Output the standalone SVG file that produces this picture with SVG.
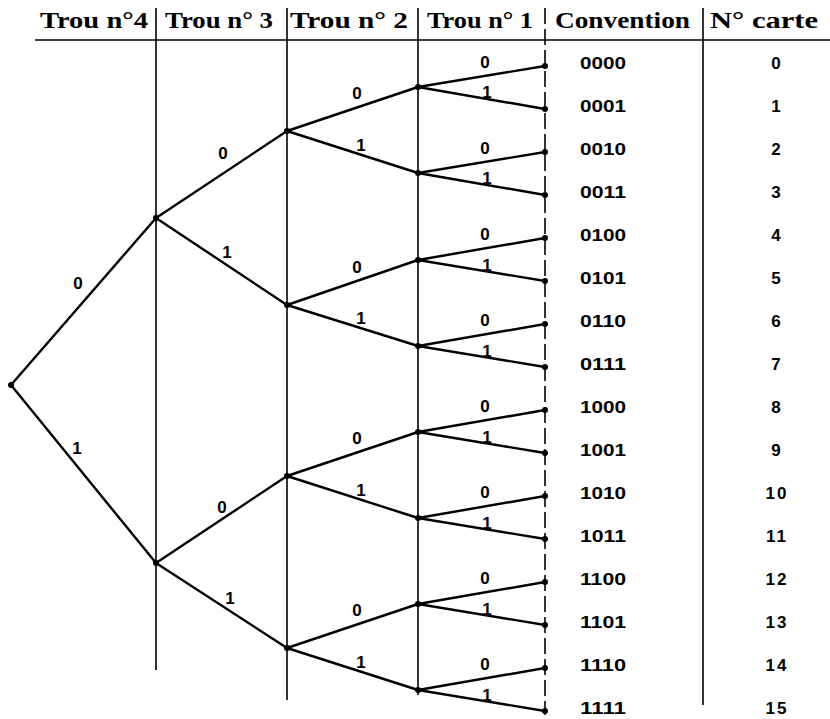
<svg xmlns="http://www.w3.org/2000/svg" width="830" height="719" viewBox="0 0 830 719">
<style>
.hdr{font-family:"Liberation Serif","DejaVu Serif",serif;font-weight:bold;font-size:23px;fill:#000}
.grid{stroke:#000;stroke-width:1.6;fill:none}
.edge{stroke:#000;stroke-width:2.4;fill:none;stroke-linejoin:round}
.dot{fill:#000}
.el{font-family:"Liberation Sans","DejaVu Sans",sans-serif;font-weight:bold;font-size:17px;fill:#000;text-anchor:middle}
.code{font-family:"Liberation Sans","DejaVu Sans",sans-serif;font-weight:bold;font-size:16px;fill:#000}
.num{font-family:"Liberation Sans","DejaVu Sans",sans-serif;font-weight:bold;font-size:17px;fill:#000;text-anchor:middle;letter-spacing:2px}
</style>
<rect width="830" height="719" fill="#fff"/>
<g id="table">
<line class="grid" x1="35" y1="40" x2="830" y2="40" stroke-width="2"/>
<line class="grid" x1="156" y1="8" x2="156" y2="670"/>
<line class="grid" x1="287" y1="8" x2="287" y2="700"/>
<line class="grid" x1="418" y1="8" x2="418" y2="695"/>
<line class="grid" x1="545" y1="8" x2="545" y2="715" stroke-dasharray="16 5"/>
<line class="grid" x1="703" y1="8" x2="703" y2="705"/>
<text class="hdr" x="40" y="28" textLength="108" lengthAdjust="spacingAndGlyphs">Trou n°4</text>
<text class="hdr" x="165" y="28" textLength="108" lengthAdjust="spacingAndGlyphs">Trou n° 3</text>
<text class="hdr" x="290" y="28" textLength="118" lengthAdjust="spacingAndGlyphs">Trou n° 2</text>
<text class="hdr" x="427" y="28" textLength="106" lengthAdjust="spacingAndGlyphs">Trou n° 1</text>
<text class="hdr" x="555" y="28" textLength="135" lengthAdjust="spacingAndGlyphs">Convention</text>
<text class="hdr" x="710" y="28" textLength="108" lengthAdjust="spacingAndGlyphs">N° carte</text>
</g>
<g id="connectors">
<polyline class="edge" points="156,218 11,385 156,563"/>
<polyline class="edge" points="287,131 156,218 287,305"/>
<polyline class="edge" points="287,476 156,563 287,648"/>
<polyline class="edge" points="418,87 287,131 418,173"/>
<polyline class="edge" points="418,260 287,305 418,346"/>
<polyline class="edge" points="418,432 287,476 418,518"/>
<polyline class="edge" points="418,604 287,648 418,690"/>
<polyline class="edge" points="545,66 418,87 545,109"/>
<polyline class="edge" points="545,152 418,173 545,195"/>
<polyline class="edge" points="545,238 418,260 545,281"/>
<polyline class="edge" points="545,324 418,346 545,367"/>
<polyline class="edge" points="545,410 418,432 545,453"/>
<polyline class="edge" points="545,496 418,518 545,539"/>
<polyline class="edge" points="545,582 418,604 545,625"/>
<polyline class="edge" points="545,668 418,690 545,711"/>
<text class="el" x="78" y="289">0</text>
<text class="el" x="77" y="454">1</text>
<text class="el" x="223" y="159">0</text>
<text class="el" x="227" y="258">1</text>
<text class="el" x="222" y="513">0</text>
<text class="el" x="230" y="604">1</text>
<text class="el" x="357" y="99">0</text>
<text class="el" x="361" y="151">1</text>
<text class="el" x="357" y="273">0</text>
<text class="el" x="361" y="324">1</text>
<text class="el" x="357" y="444">0</text>
<text class="el" x="361" y="496">1</text>
<text class="el" x="357" y="616">0</text>
<text class="el" x="361" y="668">1</text>
<text class="el" x="485" y="68">0</text><text class="el" x="487" y="98">1</text>
<text class="el" x="485" y="154">0</text><text class="el" x="487" y="184">1</text>
<text class="el" x="485" y="240">0</text><text class="el" x="487" y="271">1</text>
<text class="el" x="485" y="326">0</text><text class="el" x="487" y="357">1</text>
<text class="el" x="485" y="412">0</text><text class="el" x="487" y="443">1</text>
<text class="el" x="485" y="498">0</text><text class="el" x="487" y="529">1</text>
<text class="el" x="485" y="584">0</text><text class="el" x="487" y="615">1</text>
<text class="el" x="485" y="670">0</text><text class="el" x="487" y="701">1</text>
</g>
<g id="n-root"><circle class="dot" cx="11" cy="385" r="3"/></g>
<g id="n-0"><circle class="dot" cx="156" cy="218" r="3"/></g>
<g id="n-1"><circle class="dot" cx="156" cy="563" r="3"/></g>
<g id="n-00"><circle class="dot" cx="287" cy="131" r="3"/></g>
<g id="n-01"><circle class="dot" cx="287" cy="305" r="3"/></g>
<g id="n-10"><circle class="dot" cx="287" cy="476" r="3"/></g>
<g id="n-11"><circle class="dot" cx="287" cy="648" r="3"/></g>
<g id="n-000"><circle class="dot" cx="418" cy="87" r="3"/></g>
<g id="n-001"><circle class="dot" cx="418" cy="173" r="3"/></g>
<g id="n-010"><circle class="dot" cx="418" cy="260" r="3"/></g>
<g id="n-011"><circle class="dot" cx="418" cy="346" r="3"/></g>
<g id="n-100"><circle class="dot" cx="418" cy="432" r="3"/></g>
<g id="n-101"><circle class="dot" cx="418" cy="518" r="3"/></g>
<g id="n-110"><circle class="dot" cx="418" cy="604" r="3"/></g>
<g id="n-111"><circle class="dot" cx="418" cy="690" r="3"/></g>
<g id="leaf-0000"><circle class="dot" cx="545" cy="66" r="3"/><text class="code" x="580" y="69" textLength="46" lengthAdjust="spacingAndGlyphs">0000</text><text class="num" x="777" y="69">0</text></g>
<g id="leaf-0001"><circle class="dot" cx="545" cy="109" r="3"/><text class="code" x="580" y="112" textLength="46" lengthAdjust="spacingAndGlyphs">0001</text><text class="num" x="777" y="112">1</text></g>
<g id="leaf-0010"><circle class="dot" cx="545" cy="152" r="3"/><text class="code" x="580" y="155" textLength="46" lengthAdjust="spacingAndGlyphs">0010</text><text class="num" x="777" y="155">2</text></g>
<g id="leaf-0011"><circle class="dot" cx="545" cy="195" r="3"/><text class="code" x="580" y="198" textLength="46" lengthAdjust="spacingAndGlyphs">0011</text><text class="num" x="777" y="198">3</text></g>
<g id="leaf-0100"><circle class="dot" cx="545" cy="238" r="3"/><text class="code" x="580" y="241" textLength="46" lengthAdjust="spacingAndGlyphs">0100</text><text class="num" x="777" y="241">4</text></g>
<g id="leaf-0101"><circle class="dot" cx="545" cy="281" r="3"/><text class="code" x="580" y="284" textLength="46" lengthAdjust="spacingAndGlyphs">0101</text><text class="num" x="777" y="284">5</text></g>
<g id="leaf-0110"><circle class="dot" cx="545" cy="324" r="3"/><text class="code" x="580" y="327" textLength="46" lengthAdjust="spacingAndGlyphs">0110</text><text class="num" x="777" y="327">6</text></g>
<g id="leaf-0111"><circle class="dot" cx="545" cy="367" r="3"/><text class="code" x="580" y="370" textLength="46" lengthAdjust="spacingAndGlyphs">0111</text><text class="num" x="777" y="370">7</text></g>
<g id="leaf-1000"><circle class="dot" cx="545" cy="410" r="3"/><text class="code" x="580" y="413" textLength="46" lengthAdjust="spacingAndGlyphs">1000</text><text class="num" x="777" y="413">8</text></g>
<g id="leaf-1001"><circle class="dot" cx="545" cy="453" r="3"/><text class="code" x="580" y="456" textLength="46" lengthAdjust="spacingAndGlyphs">1001</text><text class="num" x="777" y="456">9</text></g>
<g id="leaf-1010"><circle class="dot" cx="545" cy="496" r="3"/><text class="code" x="580" y="499" textLength="46" lengthAdjust="spacingAndGlyphs">1010</text><text class="num" x="777" y="499">10</text></g>
<g id="leaf-1011"><circle class="dot" cx="545" cy="539" r="3"/><text class="code" x="580" y="542" textLength="46" lengthAdjust="spacingAndGlyphs">1011</text><text class="num" x="777" y="542">11</text></g>
<g id="leaf-1100"><circle class="dot" cx="545" cy="582" r="3"/><text class="code" x="580" y="585" textLength="46" lengthAdjust="spacingAndGlyphs">1100</text><text class="num" x="777" y="585">12</text></g>
<g id="leaf-1101"><circle class="dot" cx="545" cy="625" r="3"/><text class="code" x="580" y="628" textLength="46" lengthAdjust="spacingAndGlyphs">1101</text><text class="num" x="777" y="628">13</text></g>
<g id="leaf-1110"><circle class="dot" cx="545" cy="668" r="3"/><text class="code" x="580" y="671" textLength="46" lengthAdjust="spacingAndGlyphs">1110</text><text class="num" x="777" y="671">14</text></g>
<g id="leaf-1111"><circle class="dot" cx="545" cy="711" r="3"/><text class="code" x="580" y="714" textLength="46" lengthAdjust="spacingAndGlyphs">1111</text><text class="num" x="777" y="714">15</text></g>
</svg>
